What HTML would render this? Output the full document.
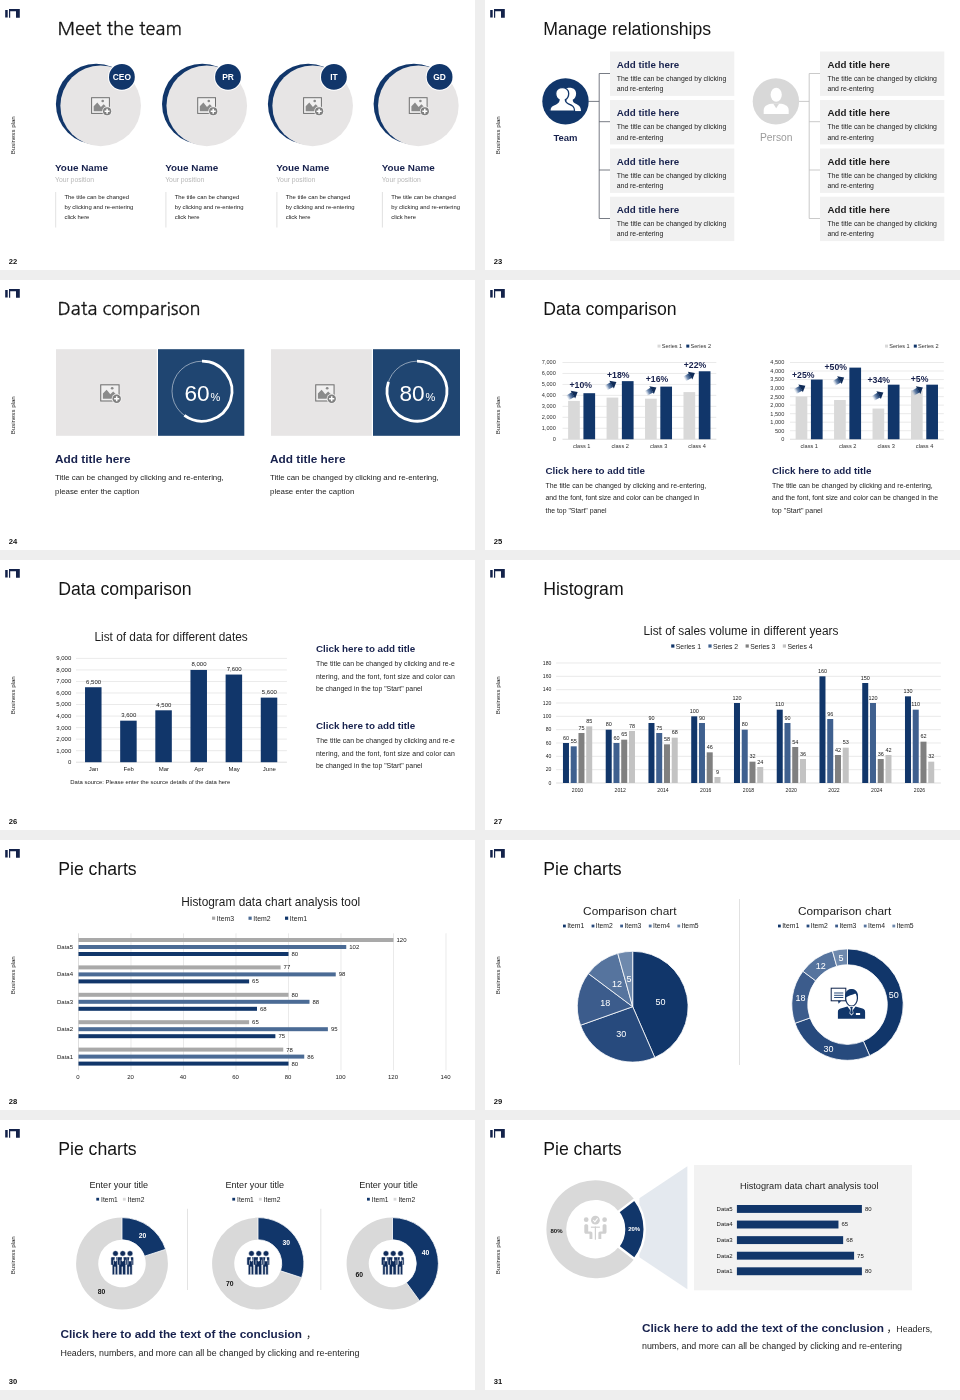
<!DOCTYPE html>
<html lang="en"><head><meta charset="utf-8"><title>Business plan slides</title>
<style>
html,body{margin:0;padding:0;background:#eeeeee;}
body{width:960px;height:1400px;overflow:hidden;position:relative;}
svg{position:absolute;left:0;top:0;display:block;font-family:"Liberation Sans","DejaVu Sans",sans-serif;}
text{white-space:pre;}
</style></head><body>
<svg width="960" height="1400" viewBox="0 0 960 1400">
<defs>
<linearGradient id="ag" gradientUnits="userSpaceOnUse" x1="-6.6" y1="0" x2="0.2" y2="0"><stop offset="0" stop-color="#8aa3c4" stop-opacity="0"/><stop offset="0.45" stop-color="#4a6b9a" stop-opacity="0.75"/><stop offset="1" stop-color="#11366a"/></linearGradient>
</defs>
<rect width="960" height="1400" fill="#eeeeee"/>
<g transform="translate(0,0)">
<rect x="0.00" y="0.00" width="475.00" height="270.00" fill="#fff" />
<path d="M5.2,10h2.5v7.6h-2.5z M9,9h10.8v8.8h-3.8v-6.6h-5.8v6.6h-1.2z" fill="#13224a" />
<text x="0.00" y="0.00" font-size="6.1" fill="#1a1a1a" text-anchor="middle" transform="translate(15.3,135.3) rotate(-90)">Business plan</text>
<text x="8.80" y="263.60" font-size="7.6" fill="#111" font-weight="bold">22</text>
<text x="57.40" y="34.50" font-size="18.2" fill="#141414" textLength="124.50" lengthAdjust="spacing" font-family="NanumGothic,'Liberation Sans',sans-serif" stroke="#141414" stroke-width="0.28">Meet the team</text>
<circle cx="96.20" cy="104.10" r="40.30" fill="#11366a" />
<circle cx="100.65" cy="105.85" r="40.30" fill="#e7e5e5" />
<circle cx="121.90" cy="76.90" r="13.90" fill="#fff" />
<circle cx="121.90" cy="76.90" r="12.90" fill="#11366a" />
<text x="121.90" y="79.90" font-size="8.4" fill="#fff" font-weight="bold" text-anchor="middle">CEO</text>
<g transform="translate(100.50,105.55) scale(1.0)">
<rect x="-8.9" y="-7.85" width="17.8" height="15.7" fill="#f1f0f0" stroke="#6f6f6f" stroke-width="1"/>
<path d="M-6.8,5.6V0.6L-3.2,-3L0.4,1.4L3.2,-1.4L6.8,2.2V5.600Z" fill="#8a8a8a"/>
<circle cx="2.2" cy="-4.5" r="1.3" fill="#8a8a8a"/>
<circle cx="6.6" cy="5.7" r="4.9" fill="#f1f0f0"/>
<circle cx="6.6" cy="5.7" r="4.1" fill="#808080"/>
<path d="M4.1,5.7h5M6.6,3.2v5" stroke="#fff" stroke-width="1.5" fill="none"/>
</g>
<text x="55.00" y="171.00" font-size="9.9" fill="#17214d" font-weight="bold">Youe Name</text>
<text x="55.00" y="181.50" font-size="6.8" fill="#b8b8b8">Your position</text>
<line x1="55.70" y1="192.00" x2="55.70" y2="227.50" stroke="#d9d9d9" stroke-width="0.8" />
<text x="64.50" y="199.10" font-size="5.9" fill="#1a1a1a">The title can be changed</text>
<text x="64.50" y="209.10" font-size="5.9" fill="#1a1a1a">by clicking and re-entering</text>
<text x="64.50" y="219.10" font-size="5.9" fill="#1a1a1a">click here</text>
<circle cx="202.30" cy="104.10" r="40.30" fill="#11366a" />
<circle cx="206.75" cy="105.85" r="40.30" fill="#e7e5e5" />
<circle cx="228.00" cy="76.90" r="13.90" fill="#fff" />
<circle cx="228.00" cy="76.90" r="12.90" fill="#11366a" />
<text x="228.00" y="79.90" font-size="8.4" fill="#fff" font-weight="bold" text-anchor="middle">PR</text>
<g transform="translate(206.60,105.55) scale(1.0)">
<rect x="-8.9" y="-7.85" width="17.8" height="15.7" fill="#f1f0f0" stroke="#6f6f6f" stroke-width="1"/>
<path d="M-6.8,5.6V0.6L-3.2,-3L0.4,1.4L3.2,-1.4L6.8,2.2V5.600Z" fill="#8a8a8a"/>
<circle cx="2.2" cy="-4.5" r="1.3" fill="#8a8a8a"/>
<circle cx="6.6" cy="5.7" r="4.9" fill="#f1f0f0"/>
<circle cx="6.6" cy="5.7" r="4.1" fill="#808080"/>
<path d="M4.1,5.7h5M6.6,3.2v5" stroke="#fff" stroke-width="1.5" fill="none"/>
</g>
<text x="165.20" y="171.00" font-size="9.9" fill="#17214d" font-weight="bold">Youe Name</text>
<text x="165.20" y="181.50" font-size="6.8" fill="#b8b8b8">Your position</text>
<line x1="165.90" y1="192.00" x2="165.90" y2="227.50" stroke="#d9d9d9" stroke-width="0.8" />
<text x="174.70" y="199.10" font-size="5.9" fill="#1a1a1a">The title can be changed</text>
<text x="174.70" y="209.10" font-size="5.9" fill="#1a1a1a">by clicking and re-entering</text>
<text x="174.70" y="219.10" font-size="5.9" fill="#1a1a1a">click here</text>
<circle cx="308.20" cy="104.10" r="40.30" fill="#11366a" />
<circle cx="312.65" cy="105.85" r="40.30" fill="#e7e5e5" />
<circle cx="333.90" cy="76.90" r="13.90" fill="#fff" />
<circle cx="333.90" cy="76.90" r="12.90" fill="#11366a" />
<text x="333.90" y="79.90" font-size="8.4" fill="#fff" font-weight="bold" text-anchor="middle">IT</text>
<g transform="translate(312.50,105.55) scale(1.0)">
<rect x="-8.9" y="-7.85" width="17.8" height="15.7" fill="#f1f0f0" stroke="#6f6f6f" stroke-width="1"/>
<path d="M-6.8,5.6V0.6L-3.2,-3L0.4,1.4L3.2,-1.4L6.8,2.2V5.600Z" fill="#8a8a8a"/>
<circle cx="2.2" cy="-4.5" r="1.3" fill="#8a8a8a"/>
<circle cx="6.6" cy="5.7" r="4.9" fill="#f1f0f0"/>
<circle cx="6.6" cy="5.7" r="4.1" fill="#808080"/>
<path d="M4.1,5.7h5M6.6,3.2v5" stroke="#fff" stroke-width="1.5" fill="none"/>
</g>
<text x="276.20" y="171.00" font-size="9.9" fill="#17214d" font-weight="bold">Youe Name</text>
<text x="276.20" y="181.50" font-size="6.8" fill="#b8b8b8">Your position</text>
<line x1="276.90" y1="192.00" x2="276.90" y2="227.50" stroke="#d9d9d9" stroke-width="0.8" />
<text x="285.70" y="199.10" font-size="5.9" fill="#1a1a1a">The title can be changed</text>
<text x="285.70" y="209.10" font-size="5.9" fill="#1a1a1a">by clicking and re-entering</text>
<text x="285.70" y="219.10" font-size="5.9" fill="#1a1a1a">click here</text>
<circle cx="413.90" cy="104.10" r="40.30" fill="#11366a" />
<circle cx="418.35" cy="105.85" r="40.30" fill="#e7e5e5" />
<circle cx="439.60" cy="76.90" r="13.90" fill="#fff" />
<circle cx="439.60" cy="76.90" r="12.90" fill="#11366a" />
<text x="439.60" y="79.90" font-size="8.4" fill="#fff" font-weight="bold" text-anchor="middle">GD</text>
<g transform="translate(418.20,105.55) scale(1.0)">
<rect x="-8.9" y="-7.85" width="17.8" height="15.7" fill="#f1f0f0" stroke="#6f6f6f" stroke-width="1"/>
<path d="M-6.8,5.6V0.6L-3.2,-3L0.4,1.4L3.2,-1.4L6.8,2.2V5.600Z" fill="#8a8a8a"/>
<circle cx="2.2" cy="-4.5" r="1.3" fill="#8a8a8a"/>
<circle cx="6.6" cy="5.7" r="4.9" fill="#f1f0f0"/>
<circle cx="6.6" cy="5.7" r="4.1" fill="#808080"/>
<path d="M4.1,5.7h5M6.6,3.2v5" stroke="#fff" stroke-width="1.5" fill="none"/>
</g>
<text x="381.70" y="171.00" font-size="9.9" fill="#17214d" font-weight="bold">Youe Name</text>
<text x="381.70" y="181.50" font-size="6.8" fill="#b8b8b8">Your position</text>
<line x1="382.40" y1="192.00" x2="382.40" y2="227.50" stroke="#d9d9d9" stroke-width="0.8" />
<text x="391.20" y="199.10" font-size="5.9" fill="#1a1a1a">The title can be changed</text>
<text x="391.20" y="209.10" font-size="5.9" fill="#1a1a1a">by clicking and re-entering</text>
<text x="391.20" y="219.10" font-size="5.9" fill="#1a1a1a">click here</text>
</g>
<g transform="translate(485,0)">
<rect x="0.00" y="0.00" width="475.00" height="270.00" fill="#fff" />
<path d="M5.2,10h2.5v7.6h-2.5z M9,9h10.8v8.8h-3.8v-6.6h-5.8v6.6h-1.2z" fill="#13224a" />
<text x="0.00" y="0.00" font-size="6.1" fill="#1a1a1a" text-anchor="middle" transform="translate(15.3,135.3) rotate(-90)">Business plan</text>
<text x="8.80" y="263.60" font-size="7.6" fill="#111" font-weight="bold">23</text>
<text x="58.20" y="34.50" font-size="17.67" fill="#141414" textLength="168.00" lengthAdjust="spacing">Manage relationships</text>
<line x1="103.50" y1="101.40" x2="114.20" y2="101.40" stroke="#555a66" stroke-width="0.8" />
<line x1="114.20" y1="73.50" x2="114.20" y2="218.50" stroke="#555a66" stroke-width="0.8" />
<line x1="114.20" y1="73.50" x2="125.00" y2="73.50" stroke="#555a66" stroke-width="0.8" />
<line x1="114.20" y1="121.70" x2="125.00" y2="121.70" stroke="#555a66" stroke-width="0.8" />
<line x1="114.20" y1="170.00" x2="125.00" y2="170.00" stroke="#555a66" stroke-width="0.8" />
<line x1="114.20" y1="218.50" x2="125.00" y2="218.50" stroke="#555a66" stroke-width="0.8" />
<circle cx="80.50" cy="101.40" r="23.20" fill="#11366a" />
<text x="80.50" y="141.00" font-size="9.5" fill="#17214d" font-weight="bold" text-anchor="middle">Team</text>
<rect x="125.00" y="51.50" width="124.30" height="44.40" fill="#f1f1f1" />
<text x="131.75" y="67.50" font-size="9.78" fill="#17214d" font-weight="bold" textLength="62.50" lengthAdjust="spacing">Add title here</text>
<text x="131.75" y="80.50" font-size="6.91" fill="#1c1c1c" textLength="109.50" lengthAdjust="spacing">The title can be changed by clicking</text>
<text x="131.75" y="91.10" font-size="6.86" fill="#1c1c1c" textLength="46.50" lengthAdjust="spacing">and re-entering</text>
<rect x="125.00" y="100.00" width="124.30" height="44.40" fill="#f1f1f1" />
<text x="131.75" y="116.00" font-size="9.78" fill="#17214d" font-weight="bold" textLength="62.50" lengthAdjust="spacing">Add title here</text>
<text x="131.75" y="129.00" font-size="6.91" fill="#1c1c1c" textLength="109.50" lengthAdjust="spacing">The title can be changed by clicking</text>
<text x="131.75" y="139.60" font-size="6.86" fill="#1c1c1c" textLength="46.50" lengthAdjust="spacing">and re-entering</text>
<rect x="125.00" y="148.50" width="124.30" height="44.40" fill="#f1f1f1" />
<text x="131.75" y="164.50" font-size="9.78" fill="#17214d" font-weight="bold" textLength="62.50" lengthAdjust="spacing">Add title here</text>
<text x="131.75" y="177.50" font-size="6.91" fill="#1c1c1c" textLength="109.50" lengthAdjust="spacing">The title can be changed by clicking</text>
<text x="131.75" y="188.10" font-size="6.86" fill="#1c1c1c" textLength="46.50" lengthAdjust="spacing">and re-entering</text>
<rect x="125.00" y="196.70" width="124.30" height="44.40" fill="#f1f1f1" />
<text x="131.75" y="212.70" font-size="9.78" fill="#17214d" font-weight="bold" textLength="62.50" lengthAdjust="spacing">Add title here</text>
<text x="131.75" y="225.70" font-size="6.91" fill="#1c1c1c" textLength="109.50" lengthAdjust="spacing">The title can be changed by clicking</text>
<text x="131.75" y="236.30" font-size="6.86" fill="#1c1c1c" textLength="46.50" lengthAdjust="spacing">and re-entering</text>
<line x1="313.90" y1="101.40" x2="324.20" y2="101.40" stroke="#bdbdbd" stroke-width="0.8" />
<line x1="324.20" y1="73.50" x2="324.20" y2="218.50" stroke="#bdbdbd" stroke-width="0.8" />
<line x1="324.20" y1="73.50" x2="335.00" y2="73.50" stroke="#bdbdbd" stroke-width="0.8" />
<line x1="324.20" y1="121.70" x2="335.00" y2="121.70" stroke="#bdbdbd" stroke-width="0.8" />
<line x1="324.20" y1="170.00" x2="335.00" y2="170.00" stroke="#bdbdbd" stroke-width="0.8" />
<line x1="324.20" y1="218.50" x2="335.00" y2="218.50" stroke="#bdbdbd" stroke-width="0.8" />
<circle cx="290.90" cy="101.40" r="23.20" fill="#d8d8d8" />
<text x="291.20" y="141.20" font-size="10.3" fill="#9c9c9c" text-anchor="middle">Person</text>
<rect x="335.00" y="51.50" width="124.30" height="44.40" fill="#f1f1f1" />
<text x="342.40" y="67.50" font-size="9.78" fill="#1c1c1c" font-weight="bold" textLength="62.50" lengthAdjust="spacing">Add title here</text>
<text x="342.40" y="80.50" font-size="6.91" fill="#1c1c1c" textLength="109.50" lengthAdjust="spacing">The title can be changed by clicking</text>
<text x="342.40" y="91.10" font-size="6.86" fill="#1c1c1c" textLength="46.50" lengthAdjust="spacing">and re-entering</text>
<rect x="335.00" y="100.00" width="124.30" height="44.40" fill="#f1f1f1" />
<text x="342.40" y="116.00" font-size="9.78" fill="#1c1c1c" font-weight="bold" textLength="62.50" lengthAdjust="spacing">Add title here</text>
<text x="342.40" y="129.00" font-size="6.91" fill="#1c1c1c" textLength="109.50" lengthAdjust="spacing">The title can be changed by clicking</text>
<text x="342.40" y="139.60" font-size="6.86" fill="#1c1c1c" textLength="46.50" lengthAdjust="spacing">and re-entering</text>
<rect x="335.00" y="148.50" width="124.30" height="44.40" fill="#f1f1f1" />
<text x="342.40" y="164.50" font-size="9.78" fill="#1c1c1c" font-weight="bold" textLength="62.50" lengthAdjust="spacing">Add title here</text>
<text x="342.40" y="177.50" font-size="6.91" fill="#1c1c1c" textLength="109.50" lengthAdjust="spacing">The title can be changed by clicking</text>
<text x="342.40" y="188.10" font-size="6.86" fill="#1c1c1c" textLength="46.50" lengthAdjust="spacing">and re-entering</text>
<rect x="335.00" y="196.70" width="124.30" height="44.40" fill="#f1f1f1" />
<text x="342.40" y="212.70" font-size="9.78" fill="#1c1c1c" font-weight="bold" textLength="62.50" lengthAdjust="spacing">Add title here</text>
<text x="342.40" y="225.70" font-size="6.91" fill="#1c1c1c" textLength="109.50" lengthAdjust="spacing">The title can be changed by clicking</text>
<text x="342.40" y="236.30" font-size="6.86" fill="#1c1c1c" textLength="46.50" lengthAdjust="spacing">and re-entering</text>
<g transform="translate(80.5,101.4)">
<path d="M-7.30,9.85C-7.30,5.2 -5.10,3.9 -2.10,2.4C0.10,1.6 0.80,0.6 1.00,-1.6C-1.30,-3 -2.40,-5.4 -2.40,-8C-2.40,-11.6 0.30,-13.7 4.10,-13.7C7.90,-13.7 10.60,-11.6 10.60,-8C10.60,-5.4 9.50,-3 7.20,-1.6C7.40,0.6 8.10,1.6 10.30,2.4C13.30,3.9 15.50,5.2 15.50,9.85Z" fill="#fff"/>
<path d="M-15.70,9.85C-15.70,5.2 -13.50,3.9 -9.50,2.4C-7.30,1.6 -6.60,0.6 -6.40,-1.6C-8.70,-3 -9.80,-5.4 -9.80,-8C-9.80,-11.6 -7.10,-13.7 -3.30,-13.7C0.50,-13.7 3.20,-11.6 3.20,-8C3.20,-5.4 2.10,-3 -0.20,-1.6C0.00,0.6 0.70,1.6 2.90,2.4C6.90,3.9 9.10,5.2 9.10,9.85Z" fill="#fff" stroke="#11366a" stroke-width="1.3"/>
<rect x="-17" y="9.85" width="34" height="2" fill="#11366a"/>
</g>
<g transform="translate(290.9,101.4)" fill="#fff">
<ellipse cx="0.3" cy="-6.6" rx="5.6" ry="7"/>
<path d="M-12.2,12.7v-3.600c0,-4.200 3,-5.800 7.600,-6.700h9.800c4.600,0.900 7.600,2.500 7.600,6.700v3.600z"/>
<path d="M-2.600,2.300L0.300,6.900L3.200,2.300Z" fill="#d8d8d8"/>
</g>
</g>
<g transform="translate(0,280)">
<rect x="0.00" y="0.00" width="475.00" height="270.00" fill="#fff" />
<path d="M5.2,10h2.5v7.6h-2.5z M9,9h10.8v8.8h-3.8v-6.6h-5.8v6.6h-1.2z" fill="#13224a" />
<text x="0.00" y="0.00" font-size="6.1" fill="#1a1a1a" text-anchor="middle" transform="translate(15.3,135.3) rotate(-90)">Business plan</text>
<text x="8.80" y="263.60" font-size="7.6" fill="#111" font-weight="bold">24</text>
<text x="57.60" y="34.50" font-size="18.2" fill="#141414" textLength="143.00" lengthAdjust="spacing" font-family="NanumGothic,'Liberation Sans',sans-serif" stroke="#141414" stroke-width="0.28">Data comparison</text>
<rect x="56.00" y="69.20" width="100.80" height="86.60" fill="#e7e5e5" />
<rect x="158.00" y="69.20" width="86.30" height="86.60" fill="#1f4571" />
<g transform="translate(109.90,112.90) scale(1.03)">
<rect x="-8.9" y="-7.85" width="17.8" height="15.7" fill="#f1f0f0" stroke="#6f6f6f" stroke-width="1"/>
<path d="M-6.8,5.6V0.6L-3.2,-3L0.4,1.4L3.2,-1.4L6.8,2.2V5.600Z" fill="#8a8a8a"/>
<circle cx="2.2" cy="-4.5" r="1.3" fill="#8a8a8a"/>
<circle cx="6.6" cy="5.7" r="4.9" fill="#f1f0f0"/>
<circle cx="6.6" cy="5.7" r="4.1" fill="#808080"/>
<path d="M4.1,5.7h5M6.6,3.2v5" stroke="#fff" stroke-width="1.5" fill="none"/>
</g>
<circle cx="202" cy="111.2" r="30" fill="none" stroke="#ffffff" stroke-opacity="0.55" stroke-width="0.9"/>
<path d="M202.00,81.20A30,30 0 1 1 184.37,135.47" fill="none" stroke="#fff" stroke-width="2.8"/>
<text x="184.40" y="120.60" font-size="22.6" fill="#fff">60</text>
<text x="210.40" y="120.60" font-size="11" fill="#fff">%</text>
<text x="55.00" y="182.90" font-size="11.82" fill="#17214d" font-weight="bold" textLength="75.50" lengthAdjust="spacing">Add title here</text>
<text x="55.00" y="200.00" font-size="7.86" fill="#1c1c1c" textLength="168.80" lengthAdjust="spacing">Title can be changed by clicking and re-entering,</text>
<text x="55.00" y="214.30" font-size="7.9" fill="#1c1c1c" textLength="84.30" lengthAdjust="spacing">please enter the caption</text>
<rect x="271.00" y="69.20" width="100.80" height="86.60" fill="#e7e5e5" />
<rect x="373.00" y="69.20" width="87.00" height="86.60" fill="#1f4571" />
<g transform="translate(324.90,112.90) scale(1.03)">
<rect x="-8.9" y="-7.85" width="17.8" height="15.7" fill="#f1f0f0" stroke="#6f6f6f" stroke-width="1"/>
<path d="M-6.8,5.6V0.6L-3.2,-3L0.4,1.4L3.2,-1.4L6.8,2.2V5.600Z" fill="#8a8a8a"/>
<circle cx="2.2" cy="-4.5" r="1.3" fill="#8a8a8a"/>
<circle cx="6.6" cy="5.7" r="4.9" fill="#f1f0f0"/>
<circle cx="6.6" cy="5.7" r="4.1" fill="#808080"/>
<path d="M4.1,5.7h5M6.6,3.2v5" stroke="#fff" stroke-width="1.5" fill="none"/>
</g>
<circle cx="417" cy="111.2" r="30" fill="none" stroke="#ffffff" stroke-opacity="0.55" stroke-width="0.9"/>
<path d="M417.00,81.20A30,30 0 1 1 388.47,101.93" fill="none" stroke="#fff" stroke-width="2.8"/>
<text x="399.40" y="120.60" font-size="22.6" fill="#fff">80</text>
<text x="425.40" y="120.60" font-size="11" fill="#fff">%</text>
<text x="270.00" y="182.90" font-size="11.82" fill="#17214d" font-weight="bold" textLength="75.50" lengthAdjust="spacing">Add title here</text>
<text x="270.00" y="200.00" font-size="7.86" fill="#1c1c1c" textLength="168.80" lengthAdjust="spacing">Title can be changed by clicking and re-entering,</text>
<text x="270.00" y="214.30" font-size="7.9" fill="#1c1c1c" textLength="84.30" lengthAdjust="spacing">please enter the caption</text>
</g>
<g transform="translate(485,280)">
<rect x="0.00" y="0.00" width="475.00" height="270.00" fill="#fff" />
<path d="M5.2,10h2.5v7.6h-2.5z M9,9h10.8v8.8h-3.8v-6.6h-5.8v6.6h-1.2z" fill="#13224a" />
<text x="0.00" y="0.00" font-size="6.1" fill="#1a1a1a" text-anchor="middle" transform="translate(15.3,135.3) rotate(-90)">Business plan</text>
<text x="8.80" y="263.60" font-size="7.6" fill="#111" font-weight="bold">25</text>
<text x="58.20" y="34.50" font-size="17.66" fill="#141414" textLength="133.50" lengthAdjust="spacing">Data comparison</text>
<line x1="77.50" y1="159.25" x2="231.30" y2="159.25" stroke="#c8c8c8" stroke-width="0.6" />
<text x="70.80" y="161.15" font-size="5.6" fill="#333" text-anchor="end">0</text>
<line x1="77.50" y1="148.29" x2="231.30" y2="148.29" stroke="#dcdcdc" stroke-width="0.6" />
<text x="70.80" y="150.19" font-size="5.6" fill="#333" text-anchor="end">1,000</text>
<line x1="77.50" y1="137.32" x2="231.30" y2="137.32" stroke="#dcdcdc" stroke-width="0.6" />
<text x="70.80" y="139.22" font-size="5.6" fill="#333" text-anchor="end">2,000</text>
<line x1="77.50" y1="126.36" x2="231.30" y2="126.36" stroke="#dcdcdc" stroke-width="0.6" />
<text x="70.80" y="128.26" font-size="5.6" fill="#333" text-anchor="end">3,000</text>
<line x1="77.50" y1="115.39" x2="231.30" y2="115.39" stroke="#dcdcdc" stroke-width="0.6" />
<text x="70.80" y="117.29" font-size="5.6" fill="#333" text-anchor="end">4,000</text>
<line x1="77.50" y1="104.43" x2="231.30" y2="104.43" stroke="#dcdcdc" stroke-width="0.6" />
<text x="70.80" y="106.33" font-size="5.6" fill="#333" text-anchor="end">5,000</text>
<line x1="77.50" y1="93.46" x2="231.30" y2="93.46" stroke="#dcdcdc" stroke-width="0.6" />
<text x="70.80" y="95.36" font-size="5.6" fill="#333" text-anchor="end">6,000</text>
<line x1="77.50" y1="82.50" x2="231.30" y2="82.50" stroke="#dcdcdc" stroke-width="0.6" />
<text x="70.80" y="84.40" font-size="5.6" fill="#333" text-anchor="end">7,000</text>
<rect x="83.12" y="120.88" width="11.70" height="38.38" fill="#d9d9d9" />
<rect x="98.42" y="113.20" width="11.70" height="46.05" fill="#11366a" />
<text x="96.72" y="168.20" font-size="5.6" fill="#333" text-anchor="middle">class 1</text>
<rect x="121.58" y="117.59" width="11.70" height="41.66" fill="#d9d9d9" />
<rect x="136.88" y="101.14" width="11.70" height="58.11" fill="#11366a" />
<text x="135.18" y="168.20" font-size="5.6" fill="#333" text-anchor="middle">class 2</text>
<rect x="160.03" y="118.68" width="11.70" height="40.57" fill="#d9d9d9" />
<rect x="175.32" y="106.62" width="11.70" height="52.63" fill="#11366a" />
<text x="173.62" y="168.20" font-size="5.6" fill="#333" text-anchor="middle">class 3</text>
<rect x="198.48" y="112.10" width="11.70" height="47.15" fill="#d9d9d9" />
<rect x="213.78" y="91.27" width="11.70" height="67.98" fill="#11366a" />
<text x="212.08" y="168.20" font-size="5.6" fill="#333" text-anchor="middle">class 4</text>
<text x="84.50" y="108.00" font-size="8.7" fill="#17214d" font-weight="bold">+10%</text>
<text x="122.00" y="97.50" font-size="8.7" fill="#17214d" font-weight="bold">+18%</text>
<text x="160.80" y="101.80" font-size="8.7" fill="#17214d" font-weight="bold">+16%</text>
<text x="198.80" y="87.50" font-size="8.7" fill="#17214d" font-weight="bold">+22%</text>
<g transform="translate(87.90,114.70) rotate(-30)">
<rect x="-6.6" y="-2.7" width="6.8" height="5.4" fill="url(#ag)"/>
<path d="M0,-4.5L5.5,0L0,4.5Z" fill="#102c58"/>
</g>
<g transform="translate(126.60,104.70) rotate(-30)">
<rect x="-6.6" y="-2.7" width="6.8" height="5.4" fill="url(#ag)"/>
<path d="M0,-4.5L5.5,0L0,4.5Z" fill="#102c58"/>
</g>
<g transform="translate(166.60,110.20) rotate(-30)">
<rect x="-6.6" y="-2.7" width="6.8" height="5.4" fill="url(#ag)"/>
<path d="M0,-4.5L5.5,0L0,4.5Z" fill="#102c58"/>
</g>
<g transform="translate(205.10,95.70) rotate(-30)">
<rect x="-6.6" y="-2.7" width="6.8" height="5.4" fill="url(#ag)"/>
<path d="M0,-4.5L5.5,0L0,4.5Z" fill="#102c58"/>
</g>
<rect x="172.50" y="64.60" width="3.00" height="3.00" fill="#d9d9d9" />
<text x="176.70" y="68.20" font-size="5.6" fill="#333">Series 1</text>
<rect x="201.30" y="64.60" width="3.00" height="3.00" fill="#11366a" />
<text x="205.50" y="68.20" font-size="5.6" fill="#333">Series 2</text>
<line x1="305.00" y1="159.25" x2="458.80" y2="159.25" stroke="#c8c8c8" stroke-width="0.6" />
<text x="299.30" y="161.15" font-size="5.6" fill="#333" text-anchor="end">0</text>
<line x1="305.00" y1="150.72" x2="458.80" y2="150.72" stroke="#dcdcdc" stroke-width="0.6" />
<text x="299.30" y="152.62" font-size="5.6" fill="#333" text-anchor="end">500</text>
<line x1="305.00" y1="142.19" x2="458.80" y2="142.19" stroke="#dcdcdc" stroke-width="0.6" />
<text x="299.30" y="144.09" font-size="5.6" fill="#333" text-anchor="end">1,000</text>
<line x1="305.00" y1="133.67" x2="458.80" y2="133.67" stroke="#dcdcdc" stroke-width="0.6" />
<text x="299.30" y="135.57" font-size="5.6" fill="#333" text-anchor="end">1,500</text>
<line x1="305.00" y1="125.14" x2="458.80" y2="125.14" stroke="#dcdcdc" stroke-width="0.6" />
<text x="299.30" y="127.04" font-size="5.6" fill="#333" text-anchor="end">2,000</text>
<line x1="305.00" y1="116.61" x2="458.80" y2="116.61" stroke="#dcdcdc" stroke-width="0.6" />
<text x="299.30" y="118.51" font-size="5.6" fill="#333" text-anchor="end">2,500</text>
<line x1="305.00" y1="108.08" x2="458.80" y2="108.08" stroke="#dcdcdc" stroke-width="0.6" />
<text x="299.30" y="109.98" font-size="5.6" fill="#333" text-anchor="end">3,000</text>
<line x1="305.00" y1="99.56" x2="458.80" y2="99.56" stroke="#dcdcdc" stroke-width="0.6" />
<text x="299.30" y="101.46" font-size="5.6" fill="#333" text-anchor="end">3,500</text>
<line x1="305.00" y1="91.03" x2="458.80" y2="91.03" stroke="#dcdcdc" stroke-width="0.6" />
<text x="299.30" y="92.93" font-size="5.6" fill="#333" text-anchor="end">4,000</text>
<line x1="305.00" y1="82.50" x2="458.80" y2="82.50" stroke="#dcdcdc" stroke-width="0.6" />
<text x="299.30" y="84.40" font-size="5.6" fill="#333" text-anchor="end">4,500</text>
<rect x="310.62" y="116.61" width="11.70" height="42.64" fill="#d9d9d9" />
<rect x="325.93" y="99.56" width="11.70" height="59.69" fill="#11366a" />
<text x="324.23" y="168.20" font-size="5.6" fill="#333" text-anchor="middle">class 1</text>
<rect x="349.07" y="120.02" width="11.70" height="39.23" fill="#d9d9d9" />
<rect x="364.38" y="87.62" width="11.70" height="71.63" fill="#11366a" />
<text x="362.68" y="168.20" font-size="5.6" fill="#333" text-anchor="middle">class 2</text>
<rect x="387.52" y="128.55" width="11.70" height="30.70" fill="#d9d9d9" />
<rect x="402.82" y="104.67" width="11.70" height="54.58" fill="#11366a" />
<text x="401.12" y="168.20" font-size="5.6" fill="#333" text-anchor="middle">class 3</text>
<rect x="425.98" y="110.30" width="11.70" height="48.95" fill="#d9d9d9" />
<rect x="441.28" y="104.67" width="11.70" height="54.58" fill="#11366a" />
<text x="439.58" y="168.20" font-size="5.6" fill="#333" text-anchor="middle">class 4</text>
<text x="307.00" y="98.00" font-size="8.7" fill="#17214d" font-weight="bold">+25%</text>
<text x="339.50" y="90.00" font-size="8.7" fill="#17214d" font-weight="bold">+50%</text>
<text x="382.50" y="103.00" font-size="8.7" fill="#17214d" font-weight="bold">+34%</text>
<text x="425.80" y="101.80" font-size="8.7" fill="#17214d" font-weight="bold">+5%</text>
<g transform="translate(315.60,108.40) rotate(-30)">
<rect x="-6.6" y="-2.7" width="6.8" height="5.4" fill="url(#ag)"/>
<path d="M0,-4.5L5.5,0L0,4.5Z" fill="#102c58"/>
</g>
<g transform="translate(354.40,100.20) rotate(-30)">
<rect x="-6.6" y="-2.7" width="6.8" height="5.4" fill="url(#ag)"/>
<path d="M0,-4.5L5.5,0L0,4.5Z" fill="#102c58"/>
</g>
<g transform="translate(393.60,115.20) rotate(-30)">
<rect x="-6.6" y="-2.7" width="6.8" height="5.4" fill="url(#ag)"/>
<path d="M0,-4.5L5.5,0L0,4.5Z" fill="#102c58"/>
</g>
<g transform="translate(433.10,110.20) rotate(-30)">
<rect x="-6.6" y="-2.7" width="6.8" height="5.4" fill="url(#ag)"/>
<path d="M0,-4.5L5.5,0L0,4.5Z" fill="#102c58"/>
</g>
<rect x="400.00" y="64.60" width="3.00" height="3.00" fill="#d9d9d9" />
<text x="404.20" y="68.20" font-size="5.6" fill="#333">Series 1</text>
<rect x="428.80" y="64.60" width="3.00" height="3.00" fill="#11366a" />
<text x="433.00" y="68.20" font-size="5.6" fill="#333">Series 2</text>
<text x="60.50" y="193.50" font-size="9.84" fill="#17214d" font-weight="bold" textLength="99.50" lengthAdjust="spacing">Click here to add title</text>
<text x="60.50" y="207.50" font-size="6.94" fill="#1c1c1c" textLength="160.80" lengthAdjust="spacing">The title can be changed by clicking and re-entering,</text>
<text x="60.50" y="220.00" font-size="6.85" fill="#1c1c1c" textLength="153.50" lengthAdjust="spacing">and the font, font size and color can be changed in</text>
<text x="60.50" y="232.50" font-size="6.87" fill="#1c1c1c" textLength="61.00" lengthAdjust="spacing">the top "Start" panel</text>
<text x="287.00" y="193.50" font-size="9.84" fill="#17214d" font-weight="bold" textLength="99.50" lengthAdjust="spacing">Click here to add title</text>
<text x="287.00" y="207.50" font-size="6.94" fill="#1c1c1c" textLength="160.80" lengthAdjust="spacing">The title can be changed by clicking and re-entering,</text>
<text x="287.00" y="220.00" font-size="6.9" fill="#1c1c1c" textLength="166.00" lengthAdjust="spacing">and the font, font size and color can be changed in the</text>
<text x="287.00" y="232.50" font-size="7.0" fill="#1c1c1c" textLength="50.50" lengthAdjust="spacing">top "Start" panel</text>
</g>
<g transform="translate(0,560)">
<rect x="0.00" y="0.00" width="475.00" height="270.00" fill="#fff" />
<path d="M5.2,10h2.5v7.6h-2.5z M9,9h10.8v8.8h-3.8v-6.6h-5.8v6.6h-1.2z" fill="#13224a" />
<text x="0.00" y="0.00" font-size="6.1" fill="#1a1a1a" text-anchor="middle" transform="translate(15.3,135.3) rotate(-90)">Business plan</text>
<text x="8.80" y="263.60" font-size="7.6" fill="#111" font-weight="bold">26</text>
<text x="58.20" y="34.50" font-size="17.66" fill="#141414" textLength="133.50" lengthAdjust="spacing">Data comparison</text>
<text x="94.40" y="81.30" font-size="11.86" fill="#1c1c1c" textLength="153.40" lengthAdjust="spacing">List of data for different dates</text>
<line x1="76.00" y1="202.20" x2="286.90" y2="202.20" stroke="#c8c8c8" stroke-width="0.6" />
<text x="71.30" y="204.10" font-size="6" fill="#1c1c1c" text-anchor="end">0</text>
<line x1="76.00" y1="190.67" x2="286.90" y2="190.67" stroke="#dcdcdc" stroke-width="0.6" />
<text x="71.30" y="192.57" font-size="6" fill="#1c1c1c" text-anchor="end">1,000</text>
<line x1="76.00" y1="179.13" x2="286.90" y2="179.13" stroke="#dcdcdc" stroke-width="0.6" />
<text x="71.30" y="181.03" font-size="6" fill="#1c1c1c" text-anchor="end">2,000</text>
<line x1="76.00" y1="167.60" x2="286.90" y2="167.60" stroke="#dcdcdc" stroke-width="0.6" />
<text x="71.30" y="169.50" font-size="6" fill="#1c1c1c" text-anchor="end">3,000</text>
<line x1="76.00" y1="156.07" x2="286.90" y2="156.07" stroke="#dcdcdc" stroke-width="0.6" />
<text x="71.30" y="157.97" font-size="6" fill="#1c1c1c" text-anchor="end">4,000</text>
<line x1="76.00" y1="144.53" x2="286.90" y2="144.53" stroke="#dcdcdc" stroke-width="0.6" />
<text x="71.30" y="146.43" font-size="6" fill="#1c1c1c" text-anchor="end">5,000</text>
<line x1="76.00" y1="133.00" x2="286.90" y2="133.00" stroke="#dcdcdc" stroke-width="0.6" />
<text x="71.30" y="134.90" font-size="6" fill="#1c1c1c" text-anchor="end">6,000</text>
<line x1="76.00" y1="121.47" x2="286.90" y2="121.47" stroke="#dcdcdc" stroke-width="0.6" />
<text x="71.30" y="123.37" font-size="6" fill="#1c1c1c" text-anchor="end">7,000</text>
<line x1="76.00" y1="109.93" x2="286.90" y2="109.93" stroke="#dcdcdc" stroke-width="0.6" />
<text x="71.30" y="111.83" font-size="6" fill="#1c1c1c" text-anchor="end">8,000</text>
<line x1="76.00" y1="98.40" x2="286.90" y2="98.40" stroke="#dcdcdc" stroke-width="0.6" />
<text x="71.30" y="100.30" font-size="6" fill="#1c1c1c" text-anchor="end">9,000</text>
<rect x="85.03" y="127.23" width="16.50" height="74.97" fill="#11366a" />
<text x="93.58" y="123.63" font-size="6" fill="#1a1a1a" text-anchor="middle">6,500</text>
<text x="93.58" y="211.30" font-size="6" fill="#1a1a1a" text-anchor="middle">Jan</text>
<rect x="120.17" y="160.68" width="16.50" height="41.52" fill="#11366a" />
<text x="128.72" y="157.08" font-size="6" fill="#1a1a1a" text-anchor="middle">3,600</text>
<text x="128.72" y="211.30" font-size="6" fill="#1a1a1a" text-anchor="middle">Feb</text>
<rect x="155.32" y="150.30" width="16.50" height="51.90" fill="#11366a" />
<text x="163.88" y="146.70" font-size="6" fill="#1a1a1a" text-anchor="middle">4,500</text>
<text x="163.88" y="211.30" font-size="6" fill="#1a1a1a" text-anchor="middle">Mar</text>
<rect x="190.47" y="109.93" width="16.50" height="92.27" fill="#11366a" />
<text x="199.02" y="106.33" font-size="6" fill="#1a1a1a" text-anchor="middle">8,000</text>
<text x="199.02" y="211.30" font-size="6" fill="#1a1a1a" text-anchor="middle">Apr</text>
<rect x="225.62" y="114.55" width="16.50" height="87.65" fill="#11366a" />
<text x="234.17" y="110.95" font-size="6" fill="#1a1a1a" text-anchor="middle">7,600</text>
<text x="234.17" y="211.30" font-size="6" fill="#1a1a1a" text-anchor="middle">May</text>
<rect x="260.77" y="137.61" width="16.50" height="64.59" fill="#11366a" />
<text x="269.32" y="134.01" font-size="6" fill="#1a1a1a" text-anchor="middle">5,600</text>
<text x="269.32" y="211.30" font-size="6" fill="#1a1a1a" text-anchor="middle">June</text>
<text x="70.30" y="224.40" font-size="5.93" fill="#1c1c1c" textLength="160.00" lengthAdjust="spacing">Data source: Please enter the source details of the data here</text>
<text x="315.90" y="91.60" font-size="9.83" fill="#17214d" font-weight="bold" textLength="99.40" lengthAdjust="spacing">Click here to add title</text>
<text x="315.90" y="106.00" font-size="6.9" fill="#1c1c1c" textLength="139.00" lengthAdjust="spacing">The title can be changed by clicking and re-e</text>
<text x="315.90" y="118.50" font-size="6.9" fill="#1c1c1c" textLength="139.00" lengthAdjust="spacing">ntering, and the font, font size and color can</text>
<text x="315.90" y="131.00" font-size="6.9" fill="#1c1c1c" textLength="106.50" lengthAdjust="spacing">be changed in the top "Start" panel</text>
<text x="315.90" y="169.00" font-size="9.83" fill="#17214d" font-weight="bold" textLength="99.40" lengthAdjust="spacing">Click here to add title</text>
<text x="315.90" y="183.40" font-size="6.9" fill="#1c1c1c" textLength="139.00" lengthAdjust="spacing">The title can be changed by clicking and re-e</text>
<text x="315.90" y="195.90" font-size="6.9" fill="#1c1c1c" textLength="139.00" lengthAdjust="spacing">ntering, and the font, font size and color can</text>
<text x="315.90" y="208.40" font-size="6.9" fill="#1c1c1c" textLength="106.50" lengthAdjust="spacing">be changed in the top "Start" panel</text>
</g>
<g transform="translate(485,560)">
<rect x="0.00" y="0.00" width="475.00" height="270.00" fill="#fff" />
<path d="M5.2,10h2.5v7.6h-2.5z M9,9h10.8v8.8h-3.8v-6.6h-5.8v6.6h-1.2z" fill="#13224a" />
<text x="0.00" y="0.00" font-size="6.1" fill="#1a1a1a" text-anchor="middle" transform="translate(15.3,135.3) rotate(-90)">Business plan</text>
<text x="8.80" y="263.60" font-size="7.6" fill="#111" font-weight="bold">27</text>
<text x="58.20" y="34.50" font-size="17.67" fill="#141414">Histogram</text>
<text x="158.40" y="74.50" font-size="11.87" fill="#1c1c1c" textLength="195.00" lengthAdjust="spacing">List of sales volume in different years</text>
<rect x="186.20" y="84.40" width="3.20" height="3.20" fill="#11366a" />
<text x="190.80" y="88.50" font-size="6.87" fill="#1c1c1c" textLength="25.20" lengthAdjust="spacing">Series 1</text>
<rect x="223.40" y="84.40" width="3.20" height="3.20" fill="#3f608f" />
<text x="228.00" y="88.50" font-size="6.87" fill="#1c1c1c" textLength="25.20" lengthAdjust="spacing">Series 2</text>
<rect x="260.60" y="84.40" width="3.20" height="3.20" fill="#808080" />
<text x="265.20" y="88.50" font-size="6.87" fill="#1c1c1c" textLength="25.20" lengthAdjust="spacing">Series 3</text>
<rect x="297.80" y="84.40" width="3.20" height="3.20" fill="#c3c3c3" />
<text x="302.40" y="88.50" font-size="6.87" fill="#1c1c1c" textLength="25.20" lengthAdjust="spacing">Series 4</text>
<line x1="71.10" y1="223.00" x2="455.85" y2="223.00" stroke="#c8c8c8" stroke-width="0.6" />
<text x="66.30" y="224.80" font-size="5.1" fill="#1c1c1c" text-anchor="end">0</text>
<line x1="71.10" y1="209.67" x2="455.85" y2="209.67" stroke="#dcdcdc" stroke-width="0.6" />
<text x="66.30" y="211.47" font-size="5.1" fill="#1c1c1c" text-anchor="end">20</text>
<line x1="71.10" y1="196.33" x2="455.85" y2="196.33" stroke="#dcdcdc" stroke-width="0.6" />
<text x="66.30" y="198.13" font-size="5.1" fill="#1c1c1c" text-anchor="end">40</text>
<line x1="71.10" y1="183.00" x2="455.85" y2="183.00" stroke="#dcdcdc" stroke-width="0.6" />
<text x="66.30" y="184.80" font-size="5.1" fill="#1c1c1c" text-anchor="end">60</text>
<line x1="71.10" y1="169.67" x2="455.85" y2="169.67" stroke="#dcdcdc" stroke-width="0.6" />
<text x="66.30" y="171.47" font-size="5.1" fill="#1c1c1c" text-anchor="end">80</text>
<line x1="71.10" y1="156.33" x2="455.85" y2="156.33" stroke="#dcdcdc" stroke-width="0.6" />
<text x="66.30" y="158.13" font-size="5.1" fill="#1c1c1c" text-anchor="end">100</text>
<line x1="71.10" y1="143.00" x2="455.85" y2="143.00" stroke="#dcdcdc" stroke-width="0.6" />
<text x="66.30" y="144.80" font-size="5.1" fill="#1c1c1c" text-anchor="end">120</text>
<line x1="71.10" y1="129.67" x2="455.85" y2="129.67" stroke="#dcdcdc" stroke-width="0.6" />
<text x="66.30" y="131.47" font-size="5.1" fill="#1c1c1c" text-anchor="end">140</text>
<line x1="71.10" y1="116.33" x2="455.85" y2="116.33" stroke="#dcdcdc" stroke-width="0.6" />
<text x="66.30" y="118.13" font-size="5.1" fill="#1c1c1c" text-anchor="end">160</text>
<line x1="71.10" y1="103.00" x2="455.85" y2="103.00" stroke="#dcdcdc" stroke-width="0.6" />
<text x="66.30" y="104.80" font-size="5.1" fill="#1c1c1c" text-anchor="end">180</text>
<rect x="77.97" y="183.00" width="6.00" height="40.00" fill="#11366a" />
<text x="80.97" y="179.80" font-size="5.5" fill="#1a1a1a" text-anchor="middle">60</text>
<rect x="85.72" y="186.33" width="6.00" height="36.67" fill="#3f608f" />
<text x="88.72" y="183.13" font-size="5.5" fill="#1a1a1a" text-anchor="middle">55</text>
<rect x="93.47" y="173.00" width="6.00" height="50.00" fill="#808080" />
<text x="96.47" y="169.80" font-size="5.5" fill="#1a1a1a" text-anchor="middle">75</text>
<rect x="101.22" y="166.33" width="6.00" height="56.67" fill="#c3c3c3" />
<text x="104.22" y="163.13" font-size="5.5" fill="#1a1a1a" text-anchor="middle">85</text>
<text x="92.47" y="231.80" font-size="5.1" fill="#1a1a1a" text-anchor="middle">2010</text>
<rect x="120.72" y="169.67" width="6.00" height="53.33" fill="#11366a" />
<text x="123.72" y="166.47" font-size="5.5" fill="#1a1a1a" text-anchor="middle">80</text>
<rect x="128.47" y="183.00" width="6.00" height="40.00" fill="#3f608f" />
<text x="131.47" y="179.80" font-size="5.5" fill="#1a1a1a" text-anchor="middle">60</text>
<rect x="136.22" y="179.67" width="6.00" height="43.33" fill="#808080" />
<text x="139.22" y="176.47" font-size="5.5" fill="#1a1a1a" text-anchor="middle">65</text>
<rect x="143.97" y="171.00" width="6.00" height="52.00" fill="#c3c3c3" />
<text x="146.97" y="167.80" font-size="5.5" fill="#1a1a1a" text-anchor="middle">78</text>
<text x="135.22" y="231.80" font-size="5.1" fill="#1a1a1a" text-anchor="middle">2012</text>
<rect x="163.47" y="163.00" width="6.00" height="60.00" fill="#11366a" />
<text x="166.47" y="159.80" font-size="5.5" fill="#1a1a1a" text-anchor="middle">90</text>
<rect x="171.22" y="173.00" width="6.00" height="50.00" fill="#3f608f" />
<text x="174.22" y="169.80" font-size="5.5" fill="#1a1a1a" text-anchor="middle">75</text>
<rect x="178.97" y="184.33" width="6.00" height="38.67" fill="#808080" />
<text x="181.97" y="181.13" font-size="5.5" fill="#1a1a1a" text-anchor="middle">58</text>
<rect x="186.72" y="177.67" width="6.00" height="45.33" fill="#c3c3c3" />
<text x="189.72" y="174.47" font-size="5.5" fill="#1a1a1a" text-anchor="middle">68</text>
<text x="177.97" y="231.80" font-size="5.1" fill="#1a1a1a" text-anchor="middle">2014</text>
<rect x="206.22" y="156.33" width="6.00" height="66.67" fill="#11366a" />
<text x="209.22" y="153.13" font-size="5.5" fill="#1a1a1a" text-anchor="middle">100</text>
<rect x="213.97" y="163.00" width="6.00" height="60.00" fill="#3f608f" />
<text x="216.97" y="159.80" font-size="5.5" fill="#1a1a1a" text-anchor="middle">90</text>
<rect x="221.72" y="192.33" width="6.00" height="30.67" fill="#808080" />
<text x="224.72" y="189.13" font-size="5.5" fill="#1a1a1a" text-anchor="middle">46</text>
<rect x="229.47" y="217.00" width="6.00" height="6.00" fill="#c3c3c3" />
<text x="232.47" y="213.80" font-size="5.5" fill="#1a1a1a" text-anchor="middle">9</text>
<text x="220.72" y="231.80" font-size="5.1" fill="#1a1a1a" text-anchor="middle">2016</text>
<rect x="248.98" y="143.00" width="6.00" height="80.00" fill="#11366a" />
<text x="251.98" y="139.80" font-size="5.5" fill="#1a1a1a" text-anchor="middle">120</text>
<rect x="256.73" y="169.67" width="6.00" height="53.33" fill="#3f608f" />
<text x="259.73" y="166.47" font-size="5.5" fill="#1a1a1a" text-anchor="middle">80</text>
<rect x="264.48" y="201.67" width="6.00" height="21.33" fill="#808080" />
<text x="267.48" y="198.47" font-size="5.5" fill="#1a1a1a" text-anchor="middle">32</text>
<rect x="272.23" y="207.00" width="6.00" height="16.00" fill="#c3c3c3" />
<text x="275.23" y="203.80" font-size="5.5" fill="#1a1a1a" text-anchor="middle">24</text>
<text x="263.48" y="231.80" font-size="5.1" fill="#1a1a1a" text-anchor="middle">2018</text>
<rect x="291.73" y="149.67" width="6.00" height="73.33" fill="#11366a" />
<text x="294.73" y="146.47" font-size="5.5" fill="#1a1a1a" text-anchor="middle">110</text>
<rect x="299.48" y="163.00" width="6.00" height="60.00" fill="#3f608f" />
<text x="302.48" y="159.80" font-size="5.5" fill="#1a1a1a" text-anchor="middle">90</text>
<rect x="307.23" y="187.00" width="6.00" height="36.00" fill="#808080" />
<text x="310.23" y="183.80" font-size="5.5" fill="#1a1a1a" text-anchor="middle">54</text>
<rect x="314.98" y="199.00" width="6.00" height="24.00" fill="#c3c3c3" />
<text x="317.98" y="195.80" font-size="5.5" fill="#1a1a1a" text-anchor="middle">36</text>
<text x="306.23" y="231.80" font-size="5.1" fill="#1a1a1a" text-anchor="middle">2020</text>
<rect x="334.48" y="116.33" width="6.00" height="106.67" fill="#11366a" />
<text x="337.48" y="113.13" font-size="5.5" fill="#1a1a1a" text-anchor="middle">160</text>
<rect x="342.23" y="159.00" width="6.00" height="64.00" fill="#3f608f" />
<text x="345.23" y="155.80" font-size="5.5" fill="#1a1a1a" text-anchor="middle">96</text>
<rect x="349.98" y="195.00" width="6.00" height="28.00" fill="#808080" />
<text x="352.98" y="191.80" font-size="5.5" fill="#1a1a1a" text-anchor="middle">42</text>
<rect x="357.73" y="187.67" width="6.00" height="35.33" fill="#c3c3c3" />
<text x="360.73" y="184.47" font-size="5.5" fill="#1a1a1a" text-anchor="middle">53</text>
<text x="348.98" y="231.80" font-size="5.1" fill="#1a1a1a" text-anchor="middle">2022</text>
<rect x="377.23" y="123.00" width="6.00" height="100.00" fill="#11366a" />
<text x="380.23" y="119.80" font-size="5.5" fill="#1a1a1a" text-anchor="middle">150</text>
<rect x="384.98" y="143.00" width="6.00" height="80.00" fill="#3f608f" />
<text x="387.98" y="139.80" font-size="5.5" fill="#1a1a1a" text-anchor="middle">120</text>
<rect x="392.73" y="199.00" width="6.00" height="24.00" fill="#808080" />
<text x="395.73" y="195.80" font-size="5.5" fill="#1a1a1a" text-anchor="middle">36</text>
<rect x="400.48" y="195.00" width="6.00" height="28.00" fill="#c3c3c3" />
<text x="403.48" y="191.80" font-size="5.5" fill="#1a1a1a" text-anchor="middle">42</text>
<text x="391.73" y="231.80" font-size="5.1" fill="#1a1a1a" text-anchor="middle">2024</text>
<rect x="419.98" y="136.33" width="6.00" height="86.67" fill="#11366a" />
<text x="422.98" y="133.13" font-size="5.5" fill="#1a1a1a" text-anchor="middle">130</text>
<rect x="427.73" y="149.67" width="6.00" height="73.33" fill="#3f608f" />
<text x="430.73" y="146.47" font-size="5.5" fill="#1a1a1a" text-anchor="middle">110</text>
<rect x="435.48" y="181.67" width="6.00" height="41.33" fill="#808080" />
<text x="438.48" y="178.47" font-size="5.5" fill="#1a1a1a" text-anchor="middle">62</text>
<rect x="443.23" y="201.67" width="6.00" height="21.33" fill="#c3c3c3" />
<text x="446.23" y="198.47" font-size="5.5" fill="#1a1a1a" text-anchor="middle">32</text>
<text x="434.48" y="231.80" font-size="5.1" fill="#1a1a1a" text-anchor="middle">2026</text>
</g>
<g transform="translate(0,840)">
<rect x="0.00" y="0.00" width="475.00" height="270.00" fill="#fff" />
<path d="M5.2,10h2.5v7.6h-2.5z M9,9h10.8v8.8h-3.8v-6.6h-5.8v6.6h-1.2z" fill="#13224a" />
<text x="0.00" y="0.00" font-size="6.1" fill="#1a1a1a" text-anchor="middle" transform="translate(15.3,135.3) rotate(-90)">Business plan</text>
<text x="8.80" y="263.60" font-size="7.6" fill="#111" font-weight="bold">28</text>
<text x="58.20" y="34.50" font-size="17.67" fill="#141414">Pie charts</text>
<text x="181.20" y="65.80" font-size="11.88" fill="#1c1c1c" textLength="179.00" lengthAdjust="spacing">Histogram data chart analysis tool</text>
<rect x="212.00" y="76.60" width="3.20" height="3.20" fill="#a9a9a9" />
<text x="216.80" y="80.70" font-size="6.9" fill="#1c1c1c">Item3</text>
<rect x="248.50" y="76.60" width="3.20" height="3.20" fill="#4b6b95" />
<text x="253.30" y="80.70" font-size="6.9" fill="#1c1c1c">Item2</text>
<rect x="285.00" y="76.60" width="3.20" height="3.20" fill="#11366a" />
<text x="289.80" y="80.70" font-size="6.9" fill="#1c1c1c">Item1</text>
<line x1="78.50" y1="93.30" x2="78.50" y2="230.30" stroke="#c8c8c8" stroke-width="0.6" />
<text x="78.00" y="239.40" font-size="6" fill="#1a1a1a" text-anchor="middle">0</text>
<line x1="131.00" y1="93.30" x2="131.00" y2="230.30" stroke="#dcdcdc" stroke-width="0.6" />
<text x="130.50" y="239.40" font-size="6" fill="#1a1a1a" text-anchor="middle">20</text>
<line x1="183.50" y1="93.30" x2="183.50" y2="230.30" stroke="#dcdcdc" stroke-width="0.6" />
<text x="183.00" y="239.40" font-size="6" fill="#1a1a1a" text-anchor="middle">40</text>
<line x1="236.00" y1="93.30" x2="236.00" y2="230.30" stroke="#dcdcdc" stroke-width="0.6" />
<text x="235.50" y="239.40" font-size="6" fill="#1a1a1a" text-anchor="middle">60</text>
<line x1="288.50" y1="93.30" x2="288.50" y2="230.30" stroke="#dcdcdc" stroke-width="0.6" />
<text x="288.00" y="239.40" font-size="6" fill="#1a1a1a" text-anchor="middle">80</text>
<line x1="341.00" y1="93.30" x2="341.00" y2="230.30" stroke="#dcdcdc" stroke-width="0.6" />
<text x="340.50" y="239.40" font-size="6" fill="#1a1a1a" text-anchor="middle">100</text>
<line x1="393.50" y1="93.30" x2="393.50" y2="230.30" stroke="#dcdcdc" stroke-width="0.6" />
<text x="393.00" y="239.40" font-size="6" fill="#1a1a1a" text-anchor="middle">120</text>
<line x1="446.00" y1="93.30" x2="446.00" y2="230.30" stroke="#dcdcdc" stroke-width="0.6" />
<text x="445.50" y="239.40" font-size="6" fill="#1a1a1a" text-anchor="middle">140</text>
<text x="73.00" y="108.90" font-size="6" fill="#1a1a1a" text-anchor="end">Data5</text>
<rect x="78.50" y="98.00" width="315.00" height="4.00" fill="#a9a9a9" />
<text x="396.50" y="102.00" font-size="6" fill="#1a1a1a">120</text>
<rect x="78.50" y="105.00" width="267.75" height="4.00" fill="#4b6b95" />
<text x="349.25" y="109.00" font-size="6" fill="#1a1a1a">102</text>
<rect x="78.50" y="112.00" width="210.00" height="4.00" fill="#11366a" />
<text x="291.50" y="116.00" font-size="6" fill="#1a1a1a">80</text>
<text x="73.00" y="136.30" font-size="6" fill="#1a1a1a" text-anchor="end">Data4</text>
<rect x="78.50" y="125.40" width="202.12" height="4.00" fill="#a9a9a9" />
<text x="283.62" y="129.40" font-size="6" fill="#1a1a1a">77</text>
<rect x="78.50" y="132.40" width="257.25" height="4.00" fill="#4b6b95" />
<text x="338.75" y="136.40" font-size="6" fill="#1a1a1a">98</text>
<rect x="78.50" y="139.40" width="170.62" height="4.00" fill="#11366a" />
<text x="252.12" y="143.40" font-size="6" fill="#1a1a1a">65</text>
<text x="73.00" y="163.70" font-size="6" fill="#1a1a1a" text-anchor="end">Data3</text>
<rect x="78.50" y="152.80" width="210.00" height="4.00" fill="#a9a9a9" />
<text x="291.50" y="156.80" font-size="6" fill="#1a1a1a">80</text>
<rect x="78.50" y="159.80" width="231.00" height="4.00" fill="#4b6b95" />
<text x="312.50" y="163.80" font-size="6" fill="#1a1a1a">88</text>
<rect x="78.50" y="166.80" width="178.50" height="4.00" fill="#11366a" />
<text x="260.00" y="170.80" font-size="6" fill="#1a1a1a">68</text>
<text x="73.00" y="191.10" font-size="6" fill="#1a1a1a" text-anchor="end">Data2</text>
<rect x="78.50" y="180.20" width="170.62" height="4.00" fill="#a9a9a9" />
<text x="252.12" y="184.20" font-size="6" fill="#1a1a1a">65</text>
<rect x="78.50" y="187.20" width="249.38" height="4.00" fill="#4b6b95" />
<text x="330.88" y="191.20" font-size="6" fill="#1a1a1a">95</text>
<rect x="78.50" y="194.20" width="196.88" height="4.00" fill="#11366a" />
<text x="278.38" y="198.20" font-size="6" fill="#1a1a1a">75</text>
<text x="73.00" y="218.50" font-size="6" fill="#1a1a1a" text-anchor="end">Data1</text>
<rect x="78.50" y="207.60" width="204.75" height="4.00" fill="#a9a9a9" />
<text x="286.25" y="211.60" font-size="6" fill="#1a1a1a">78</text>
<rect x="78.50" y="214.60" width="225.75" height="4.00" fill="#4b6b95" />
<text x="307.25" y="218.60" font-size="6" fill="#1a1a1a">86</text>
<rect x="78.50" y="221.60" width="210.00" height="4.00" fill="#11366a" />
<text x="291.50" y="225.60" font-size="6" fill="#1a1a1a">80</text>
</g>
<g transform="translate(485,840)">
<rect x="0.00" y="0.00" width="475.00" height="270.00" fill="#fff" />
<path d="M5.2,10h2.5v7.6h-2.5z M9,9h10.8v8.8h-3.8v-6.6h-5.8v6.6h-1.2z" fill="#13224a" />
<text x="0.00" y="0.00" font-size="6.1" fill="#1a1a1a" text-anchor="middle" transform="translate(15.3,135.3) rotate(-90)">Business plan</text>
<text x="8.80" y="263.60" font-size="7.6" fill="#111" font-weight="bold">29</text>
<text x="58.20" y="34.50" font-size="17.67" fill="#141414">Pie charts</text>
<text x="98.10" y="74.60" font-size="11.83" fill="#1c1c1c" textLength="93.40" lengthAdjust="spacing">Comparison chart</text>
<rect x="78.00" y="84.60" width="2.80" height="2.80" fill="#11366a" />
<text x="82.20" y="88.40" font-size="6.8" fill="#1c1c1c">Item1</text>
<rect x="106.60" y="84.60" width="2.80" height="2.80" fill="#274a7d" />
<text x="110.80" y="88.40" font-size="6.8" fill="#1c1c1c">Item2</text>
<rect x="135.20" y="84.60" width="2.80" height="2.80" fill="#3c5c8c" />
<text x="139.40" y="88.40" font-size="6.8" fill="#1c1c1c">Item3</text>
<rect x="163.80" y="84.60" width="2.80" height="2.80" fill="#56749e" />
<text x="168.00" y="88.40" font-size="6.8" fill="#1c1c1c">Item4</text>
<rect x="192.40" y="84.60" width="2.80" height="2.80" fill="#6e89ad" />
<text x="196.60" y="88.40" font-size="6.8" fill="#1c1c1c">Item5</text>
<text x="312.90" y="74.60" font-size="11.83" fill="#1c1c1c" textLength="93.40" lengthAdjust="spacing">Comparison chart</text>
<rect x="293.00" y="84.60" width="2.80" height="2.80" fill="#11366a" />
<text x="297.20" y="88.40" font-size="6.8" fill="#1c1c1c">Item1</text>
<rect x="321.60" y="84.60" width="2.80" height="2.80" fill="#274a7d" />
<text x="325.80" y="88.40" font-size="6.8" fill="#1c1c1c">Item2</text>
<rect x="350.20" y="84.60" width="2.80" height="2.80" fill="#3c5c8c" />
<text x="354.40" y="88.40" font-size="6.8" fill="#1c1c1c">Item3</text>
<rect x="378.80" y="84.60" width="2.80" height="2.80" fill="#56749e" />
<text x="383.00" y="88.40" font-size="6.8" fill="#1c1c1c">Item4</text>
<rect x="407.40" y="84.60" width="2.80" height="2.80" fill="#6e89ad" />
<text x="411.60" y="88.40" font-size="6.8" fill="#1c1c1c">Item5</text>
<line x1="254.50" y1="59.00" x2="254.50" y2="225.00" stroke="#d9d9d9" stroke-width="0.8" />
<path d="M147.70,166.70L147.70,111.30A55.4,55.4 0 0 1 169.77,217.51Z" fill="#11366a" stroke="#fff" stroke-width="0.8" stroke-linejoin="round"/>
<path d="M147.70,166.70L169.77,217.51A55.4,55.4 0 0 1 95.50,185.25Z" fill="#274a7d" stroke="#fff" stroke-width="0.8" stroke-linejoin="round"/>
<path d="M147.70,166.70L95.50,185.25A55.4,55.4 0 0 1 103.33,133.53Z" fill="#3c5c8c" stroke="#fff" stroke-width="0.8" stroke-linejoin="round"/>
<path d="M147.70,166.70L103.33,133.53A55.4,55.4 0 0 1 132.75,113.35Z" fill="#56749e" stroke="#fff" stroke-width="0.8" stroke-linejoin="round"/>
<path d="M147.70,166.70L132.75,113.35A55.4,55.4 0 0 1 147.70,111.30Z" fill="#6e89ad" stroke="#fff" stroke-width="0.8" stroke-linejoin="round"/>
<text x="175.40" y="164.70" font-size="9" fill="#fff" text-anchor="middle">50</text>
<text x="136.25" y="196.50" font-size="9" fill="#fff" text-anchor="middle">30</text>
<text x="120.20" y="166.20" font-size="9" fill="#fff" text-anchor="middle">18</text>
<text x="132.00" y="147.40" font-size="9" fill="#fff" text-anchor="middle">12</text>
<text x="144.00" y="142.40" font-size="9" fill="#fff" text-anchor="middle">5</text>
<path d="M362.50,108.90A55.7,55.7 0 0 1 384.69,215.69L378.36,201.11A39.8,39.8 0 0 0 362.50,124.80Z" fill="#11366a" stroke="#fff" stroke-width="0.8" stroke-linejoin="round"/>
<path d="M384.69,215.69A55.7,55.7 0 0 1 310.02,183.25L325.00,177.93A39.8,39.8 0 0 0 378.36,201.11Z" fill="#274a7d" stroke="#fff" stroke-width="0.8" stroke-linejoin="round"/>
<path d="M310.02,183.25A55.7,55.7 0 0 1 317.89,131.25L330.62,140.77A39.8,39.8 0 0 0 325.00,177.93Z" fill="#3c5c8c" stroke="#fff" stroke-width="0.8" stroke-linejoin="round"/>
<path d="M317.89,131.25A55.7,55.7 0 0 1 347.47,110.97L351.76,126.28A39.8,39.8 0 0 0 330.62,140.77Z" fill="#56749e" stroke="#fff" stroke-width="0.8" stroke-linejoin="round"/>
<path d="M347.47,110.97A55.7,55.7 0 0 1 362.50,108.90L362.50,124.80A39.8,39.8 0 0 0 351.76,126.28Z" fill="#6e89ad" stroke="#fff" stroke-width="0.8" stroke-linejoin="round"/>
<text x="408.75" y="158.40" font-size="9" fill="#fff" text-anchor="middle">50</text>
<text x="343.50" y="212.20" font-size="9" fill="#fff" text-anchor="middle">30</text>
<text x="315.60" y="160.90" font-size="9" fill="#fff" text-anchor="middle">18</text>
<text x="335.80" y="128.60" font-size="9" fill="#fff" text-anchor="middle">12</text>
<text x="356.00" y="120.90" font-size="9" fill="#fff" text-anchor="middle">5</text>
<g transform="translate(362.50,164.60)" fill="#11366a">
<rect x="-16.3" y="-16.4" width="14.6" height="12.6" fill="#fff" stroke="#0e2149" stroke-width="1"/>
<path d="M-9.5,-3.8l0.6,3l2.6,-3z"/>
<path d="M-13.400,-11.600h9.200M-13.400,-9.300h9.200M-13.400,-7.100h9.200" stroke="#11366a" stroke-width="0.9" fill="none"/>
<ellipse cx="4.05" cy="-6.7" rx="5.9" ry="8.3" fill="#fff" stroke="#0f2c5a" stroke-width="1.2"/>
<path d="M-2.300,-6.800C-3,-13 0.400,-15.700 4,-15.700C8,-15.700 11.200,-13 10.400,-6.400C9.800,-8.600 9,-10.200 7.800,-11.200C5,-9.800 0.800,-9.200 -2.300,-6.800Z"/>
<path d="M-9.600,14.200v-6.800c0,-2 1,-2.900 2.600,-3.400l7,-2.100l4,5.400l4,-5.400l7,2.100c1.600,0.500 2.600,1.400 2.600,3.400v6.800z"/>
<path d="M2.600,1.400h2.800l0.600,1.600l-0.800,1.200l0.800,4.600l-2,2l-2,-2l0.800,-4.600l-0.800,-1.200z" fill="#fff"/>
<path d="M3,2.200h2l0.400,0.900l-0.700,1l0.700,4.300l-1.400,1.400l-1.400,-1.400l0.700,-4.300l-0.700,-1z"/>
<rect x="8.4" y="8.4" width="4.2" height="2" fill="#fff"/>
</g>
</g>
<g transform="translate(0,1120)">
<rect x="0.00" y="0.00" width="475.00" height="270.00" fill="#fff" />
<path d="M5.2,10h2.5v7.6h-2.5z M9,9h10.8v8.8h-3.8v-6.6h-5.8v6.6h-1.2z" fill="#13224a" />
<text x="0.00" y="0.00" font-size="6.1" fill="#1a1a1a" text-anchor="middle" transform="translate(15.3,135.3) rotate(-90)">Business plan</text>
<text x="8.80" y="263.60" font-size="7.6" fill="#111" font-weight="bold">30</text>
<text x="58.20" y="34.50" font-size="17.67" fill="#141414">Pie charts</text>
<text x="89.50" y="68.30" font-size="9.07" fill="#1c1c1c" textLength="58.50" lengthAdjust="spacing">Enter your title</text>
<rect x="96.30" y="77.80" width="2.80" height="2.80" fill="#11366a" />
<text x="101.10" y="81.80" font-size="6.7" fill="#1c1c1c">Item1</text>
<rect x="122.90" y="77.80" width="2.80" height="2.80" fill="#d9d9d9" />
<text x="127.70" y="81.80" font-size="6.7" fill="#1c1c1c">Item2</text>
<path d="M165.65,129.32A45.9,45.9 0 1 1 122.00,97.60L122.00,119.75A23.75,23.75 0 1 0 144.59,136.16Z" fill="#d9d9d9" />
<path d="M122.00,97.60A45.9,45.9 0 0 1 165.65,129.32L144.59,136.16A23.75,23.75 0 0 0 122.00,119.75Z" fill="#11366a" stroke="#fff" stroke-width="0.8"/>
<text x="142.47" y="117.73" font-size="6.8" fill="#fff" font-weight="bold" text-anchor="middle">20</text>
<text x="101.53" y="174.07" font-size="6.8" fill="#111" font-weight="bold" text-anchor="middle">80</text>
<g transform="translate(122.75,143.10) scale(1.04)" fill="#0f2b5a">
<g transform="translate(-7,0)" stroke="#fff" stroke-width="0.45">
<circle cx="0" cy="-9.300" r="2.650"/>
<path d="M-2.50,-5.900h5.00c0.600,0 0.900,0.300 0.900,0.900v6.800h-1.300v9.400h-2.30v-7.600h-0.600v7.600h-2.30v-9.400h-1.300v-6.800c0,-0.600 0.300,-0.900 0.900,-0.900z"/>
<path d="M-1.90,-3.200v4.600M1.90,-3.200v4.600" fill="none" stroke-width="0.5"/>
<path d="M-0.650,-5.900h1.300l0.400,3.400l-1.050,1.200l-1.050,-1.200z" fill="#fff" stroke="none"/>
</g>
<g transform="translate(7,0)" stroke="#fff" stroke-width="0.45">
<circle cx="0" cy="-9.300" r="2.650"/>
<path d="M-2.50,-5.900h5.00c0.600,0 0.900,0.300 0.900,0.900v6.800h-1.300v9.400h-2.30v-7.600h-0.600v7.600h-2.30v-9.400h-1.300v-6.800c0,-0.600 0.300,-0.900 0.900,-0.900z"/>
<path d="M-1.90,-3.200v4.600M1.90,-3.200v4.600" fill="none" stroke-width="0.5"/>
<path d="M-0.650,-5.900h1.300l0.400,3.400l-1.050,1.200l-1.050,-1.200z" fill="#fff" stroke="none"/>
</g>
<g transform="translate(0,0)" stroke="#fff" stroke-width="0.45">
<circle cx="0" cy="-9.300" r="2.650"/>
<path d="M-3.25,-5.900h6.50c0.600,0 0.900,0.300 0.900,0.900v6.800h-1.300v9.400h-3.05v-7.600h-0.600v7.600h-3.05v-9.400h-1.300v-6.800c0,-0.600 0.300,-0.900 0.900,-0.900z"/>
<path d="M-2.65,-3.200v4.600M2.65,-3.200v4.600" fill="none" stroke-width="0.5"/>
<path d="M-0.650,-5.900h1.300l0.400,3.400l-1.050,1.200l-1.050,-1.200z" fill="#fff" stroke="none"/>
</g>
</g>
<text x="225.50" y="68.30" font-size="9.07" fill="#1c1c1c" textLength="58.50" lengthAdjust="spacing">Enter your title</text>
<rect x="232.30" y="77.80" width="2.80" height="2.80" fill="#11366a" />
<text x="237.10" y="81.80" font-size="6.7" fill="#1c1c1c">Item1</text>
<rect x="258.90" y="77.80" width="2.80" height="2.80" fill="#d9d9d9" />
<text x="263.70" y="81.80" font-size="6.7" fill="#1c1c1c">Item2</text>
<path d="M301.65,157.68A45.9,45.9 0 1 1 258.00,97.60L258.00,119.75A23.75,23.75 0 1 0 280.59,150.84Z" fill="#d9d9d9" />
<path d="M258.00,97.60A45.9,45.9 0 0 1 301.65,157.68L280.59,150.84A23.75,23.75 0 0 0 258.00,119.75Z" fill="#11366a" stroke="#fff" stroke-width="0.8"/>
<text x="286.17" y="125.43" font-size="6.8" fill="#fff" font-weight="bold" text-anchor="middle">30</text>
<text x="229.83" y="166.37" font-size="6.8" fill="#111" font-weight="bold" text-anchor="middle">70</text>
<g transform="translate(258.75,143.10) scale(1.04)" fill="#0f2b5a">
<g transform="translate(-7,0)" stroke="#fff" stroke-width="0.45">
<circle cx="0" cy="-9.300" r="2.650"/>
<path d="M-2.50,-5.900h5.00c0.600,0 0.900,0.300 0.900,0.900v6.800h-1.300v9.400h-2.30v-7.600h-0.600v7.600h-2.30v-9.400h-1.300v-6.800c0,-0.600 0.300,-0.900 0.900,-0.900z"/>
<path d="M-1.90,-3.200v4.600M1.90,-3.200v4.600" fill="none" stroke-width="0.5"/>
<path d="M-0.650,-5.900h1.300l0.400,3.400l-1.050,1.200l-1.050,-1.200z" fill="#fff" stroke="none"/>
</g>
<g transform="translate(7,0)" stroke="#fff" stroke-width="0.45">
<circle cx="0" cy="-9.300" r="2.650"/>
<path d="M-2.50,-5.900h5.00c0.600,0 0.900,0.300 0.900,0.900v6.800h-1.300v9.400h-2.30v-7.600h-0.600v7.600h-2.30v-9.400h-1.300v-6.800c0,-0.600 0.300,-0.900 0.900,-0.900z"/>
<path d="M-1.90,-3.200v4.600M1.90,-3.200v4.600" fill="none" stroke-width="0.5"/>
<path d="M-0.650,-5.900h1.300l0.400,3.400l-1.050,1.200l-1.050,-1.200z" fill="#fff" stroke="none"/>
</g>
<g transform="translate(0,0)" stroke="#fff" stroke-width="0.45">
<circle cx="0" cy="-9.300" r="2.650"/>
<path d="M-3.25,-5.900h6.50c0.600,0 0.900,0.300 0.900,0.900v6.800h-1.300v9.400h-3.05v-7.600h-0.600v7.600h-3.05v-9.400h-1.300v-6.800c0,-0.600 0.300,-0.900 0.900,-0.900z"/>
<path d="M-2.65,-3.200v4.600M2.65,-3.200v4.600" fill="none" stroke-width="0.5"/>
<path d="M-0.650,-5.900h1.300l0.400,3.400l-1.050,1.200l-1.050,-1.200z" fill="#fff" stroke="none"/>
</g>
</g>
<text x="359.20" y="68.30" font-size="9.07" fill="#1c1c1c" textLength="58.50" lengthAdjust="spacing">Enter your title</text>
<rect x="367.00" y="77.80" width="2.80" height="2.80" fill="#11366a" />
<text x="371.80" y="81.80" font-size="6.7" fill="#1c1c1c">Item1</text>
<rect x="393.60" y="77.80" width="2.80" height="2.80" fill="#d9d9d9" />
<text x="398.40" y="81.80" font-size="6.7" fill="#1c1c1c">Item2</text>
<path d="M419.48,180.63A45.9,45.9 0 1 1 392.50,97.60L392.50,119.75A23.75,23.75 0 1 0 406.46,162.71Z" fill="#d9d9d9" />
<path d="M392.50,97.60A45.9,45.9 0 0 1 419.48,180.63L406.46,162.71A23.75,23.75 0 0 0 392.50,119.75Z" fill="#11366a" stroke="#fff" stroke-width="0.8"/>
<text x="425.62" y="135.14" font-size="6.8" fill="#fff" font-weight="bold" text-anchor="middle">40</text>
<text x="359.38" y="156.66" font-size="6.8" fill="#111" font-weight="bold" text-anchor="middle">60</text>
<g transform="translate(393.25,143.10) scale(1.04)" fill="#0f2b5a">
<g transform="translate(-7,0)" stroke="#fff" stroke-width="0.45">
<circle cx="0" cy="-9.300" r="2.650"/>
<path d="M-2.50,-5.900h5.00c0.600,0 0.900,0.300 0.900,0.900v6.800h-1.300v9.400h-2.30v-7.600h-0.600v7.600h-2.30v-9.400h-1.300v-6.800c0,-0.600 0.300,-0.900 0.900,-0.900z"/>
<path d="M-1.90,-3.200v4.600M1.90,-3.200v4.600" fill="none" stroke-width="0.5"/>
<path d="M-0.650,-5.900h1.300l0.400,3.400l-1.050,1.200l-1.050,-1.200z" fill="#fff" stroke="none"/>
</g>
<g transform="translate(7,0)" stroke="#fff" stroke-width="0.45">
<circle cx="0" cy="-9.300" r="2.650"/>
<path d="M-2.50,-5.900h5.00c0.600,0 0.900,0.300 0.900,0.900v6.800h-1.300v9.400h-2.30v-7.600h-0.600v7.600h-2.30v-9.400h-1.300v-6.800c0,-0.600 0.300,-0.900 0.900,-0.900z"/>
<path d="M-1.90,-3.200v4.600M1.90,-3.200v4.600" fill="none" stroke-width="0.5"/>
<path d="M-0.650,-5.900h1.300l0.400,3.400l-1.050,1.200l-1.050,-1.200z" fill="#fff" stroke="none"/>
</g>
<g transform="translate(0,0)" stroke="#fff" stroke-width="0.45">
<circle cx="0" cy="-9.300" r="2.650"/>
<path d="M-3.25,-5.900h6.50c0.600,0 0.900,0.300 0.900,0.900v6.800h-1.300v9.400h-3.05v-7.600h-0.600v7.600h-3.05v-9.400h-1.300v-6.800c0,-0.600 0.300,-0.900 0.900,-0.900z"/>
<path d="M-2.65,-3.200v4.600M2.65,-3.200v4.600" fill="none" stroke-width="0.5"/>
<path d="M-0.650,-5.900h1.300l0.400,3.400l-1.050,1.200l-1.050,-1.200z" fill="#fff" stroke="none"/>
</g>
</g>
<line x1="187.50" y1="88.80" x2="187.50" y2="170.00" stroke="#dcdcdc" stroke-width="0.8" />
<line x1="320.80" y1="88.80" x2="320.80" y2="170.00" stroke="#dcdcdc" stroke-width="0.8" />
<text x="60.50" y="217.60" font-size="11.81" fill="#17214d" font-weight="bold" textLength="241.50" lengthAdjust="spacing">Click here to add the text of the conclusion</text>
<text x="305.90" y="217.60" font-size="10.5" fill="#1c1c1c" font-family="'Liberation Sans','Noto Sans CJK SC',sans-serif">，</text>
<text x="60.50" y="236.00" font-size="8.89" fill="#1c1c1c" textLength="299.00" lengthAdjust="spacing">Headers, numbers, and more can all be changed by clicking and re-entering</text>
</g>
<g transform="translate(485,1120)">
<rect x="0.00" y="0.00" width="475.00" height="270.00" fill="#fff" />
<path d="M5.2,10h2.5v7.6h-2.5z M9,9h10.8v8.8h-3.8v-6.6h-5.8v6.6h-1.2z" fill="#13224a" />
<text x="0.00" y="0.00" font-size="6.1" fill="#1a1a1a" text-anchor="middle" transform="translate(15.3,135.3) rotate(-90)">Business plan</text>
<text x="8.80" y="263.60" font-size="7.6" fill="#111" font-weight="bold">31</text>
<text x="58.20" y="34.50" font-size="17.67" fill="#141414">Pie charts</text>
<path d="M154.4,78.3L202.4,46.2V169.2L154.4,137.3Z" fill="#e4e9ef" />
<rect x="209.00" y="45.00" width="218.00" height="125.30" fill="#f2f2f2" />
<path d="M149.27,139.03A49,49 0 1 1 149.27,79.37L133.57,91.42A29.2,29.2 0 1 0 133.57,126.98Z" fill="#d9d9d9" />
<path d="M149.57,79.37A49,49 0 0 1 149.57,139.03L133.23,126.49A28.4,28.4 0 0 0 133.23,91.91Z" fill="#11366a" stroke="#fff" stroke-width="2.4" stroke-linejoin="miter"/>
<text x="71.50" y="112.70" font-size="6" fill="#111" font-weight="bold" text-anchor="middle">80%</text>
<text x="149.20" y="110.60" font-size="6" fill="#fff" font-weight="bold" text-anchor="middle">20%</text>
<g transform="translate(110.40,109.20)" fill="#d0d0d0">
<circle cx="0" cy="-9" r="4.400"/>
<path d="M-2.200,-9.200l1.700,1.900l2.700,-3.500" stroke="#fff" stroke-width="1.100" fill="none"/>
<circle cx="-9.200" cy="-9.500" r="2.350"/><circle cx="9.200" cy="-9.500" r="2.350"/>
<rect x="-4.500" y="-2.600" width="9" height="1.200"/>
<rect x="-0.600" y="-2.600" width="1.200" height="13.100"/>
<path d="M-11.100,-3.400c0,-1 0.700,-1.500 1.900,-1.500c1.300,0 2,0.600 2,1.500v5.600h2.400c1.200,0 1.800,0.700 1.800,1.800v5.800h-2.900v-5.300h-3.400c-1.100,0 -1.800,-0.700 -1.800,-1.800z"/>
<path d="M11.100,-3.400c0,-1 -0.700,-1.500 -1.900,-1.500c-1.300,0 -2,0.600 -2,1.500v5.600h-2.400c-1.200,0 -1.800,0.700 -1.800,1.800v5.800h2.900v-5.300h3.400c1.100,0 1.800,-0.700 1.800,-1.800z"/>
</g>
<text x="255.00" y="68.70" font-size="9.19" fill="#1c1c1c" textLength="138.50" lengthAdjust="spacing">Histogram data chart analysis tool</text>
<rect x="251.90" y="85.00" width="125.00" height="7.90" fill="#11366a" />
<text x="231.60" y="90.90" font-size="6" fill="#1a1a1a">Data5</text>
<text x="379.90" y="90.90" font-size="6" fill="#1a1a1a">80</text>
<rect x="251.90" y="100.58" width="101.56" height="7.90" fill="#11366a" />
<text x="231.60" y="106.48" font-size="6" fill="#1a1a1a">Data4</text>
<text x="356.46" y="106.48" font-size="6" fill="#1a1a1a">65</text>
<rect x="251.90" y="116.16" width="106.25" height="7.90" fill="#11366a" />
<text x="231.60" y="122.06" font-size="6" fill="#1a1a1a">Data3</text>
<text x="361.15" y="122.06" font-size="6" fill="#1a1a1a">68</text>
<rect x="251.90" y="131.74" width="117.19" height="7.90" fill="#11366a" />
<text x="231.60" y="137.64" font-size="6" fill="#1a1a1a">Data2</text>
<text x="372.09" y="137.64" font-size="6" fill="#1a1a1a">75</text>
<rect x="251.90" y="147.32" width="125.00" height="7.90" fill="#11366a" />
<text x="231.60" y="153.22" font-size="6" fill="#1a1a1a">Data1</text>
<text x="379.90" y="153.22" font-size="6" fill="#1a1a1a">80</text>
<text x="157.00" y="211.50" font-size="11.84" fill="#17214d" font-weight="bold" textLength="242.00" lengthAdjust="spacing">Click here to add the text of the conclusion</text>
<text x="401.40" y="211.50" font-size="10.5" fill="#1c1c1c" font-family="'Liberation Sans','Noto Sans CJK SC',sans-serif">，</text>
<text x="411.30" y="211.50" font-size="8.87" fill="#1c1c1c" textLength="36.00" lengthAdjust="spacing">Headers,</text>
<text x="157.00" y="228.70" font-size="8.88" fill="#1c1c1c" textLength="260.00" lengthAdjust="spacing">numbers, and more can all be changed by clicking and re-entering</text>
</g>
</svg>
</body></html>
